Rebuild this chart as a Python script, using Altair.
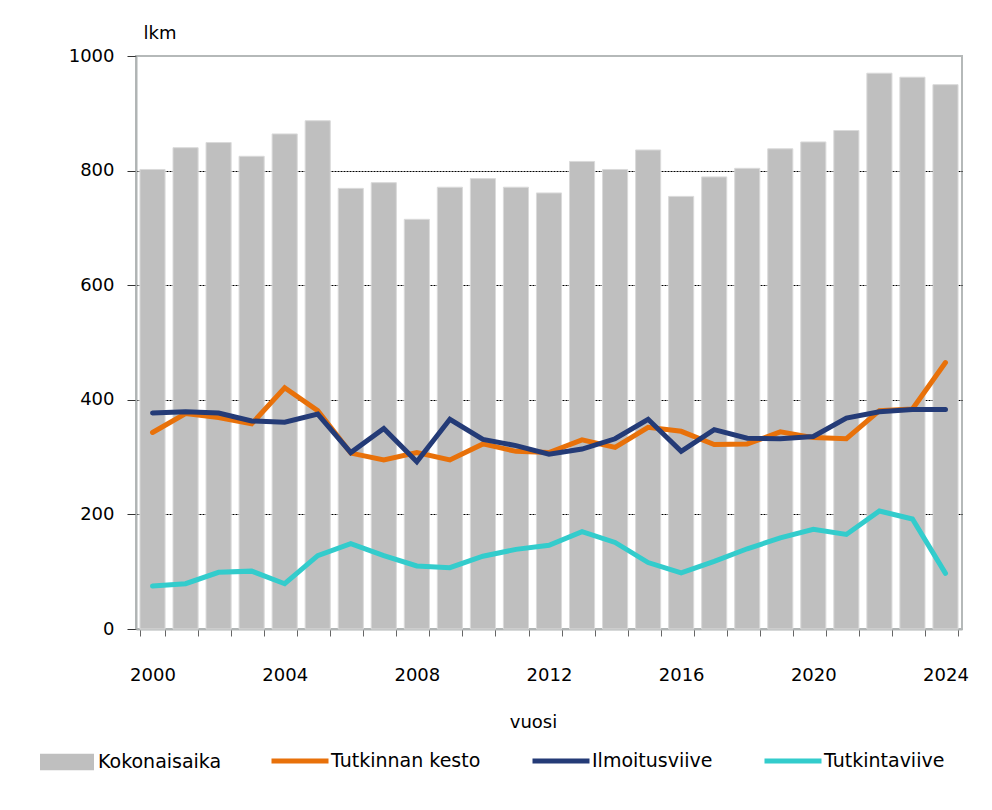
import altair as alt
import pandas as pd

years = list(range(2000, 2025))
kokonaisaika = [802, 840, 849, 825, 864, 887, 769, 779, 715, 771, 786, 771, 761,
                816, 802, 836, 755, 789, 804, 838, 850, 870, 970, 963, 950]
tutkinnan_kesto = [343, 376, 369, 358, 421, 381, 307, 295, 308, 295, 323, 310, 308,
                   330, 317, 352, 345, 322, 323, 344, 334, 332, 381, 384, 465]
ilmoitusviive = [377, 379, 377, 363, 361, 375, 308, 350, 292, 366, 331, 320, 305,
                 314, 332, 366, 310, 348, 333, 332, 336, 368, 379, 383, 383]
tutkintaviive = [75, 79, 99, 101, 79, 128, 149, 128, 110, 107, 127, 139, 146,
                 170, 151, 116, 98, 118, 140, 159, 174, 165, 206, 192, 97]

bar_name = "Kokonaisaika"
line_names = ["Tutkinnan kesto", "Ilmoitusviive", "Tutkintaviive"]
line_colors = ["#E8710A", "#243B77", "#33CCCC"]
y_ticks = [0, 200, 400, 600, 800, 1000]

df_bar = pd.DataFrame({"vuosi": years, "arvo": kokonaisaika, "sarja": bar_name})
rows = []
for name, vals in zip(line_names, [tutkinnan_kesto, ilmoitusviive, tutkintaviive]):
    for yr, v in zip(years, vals):
        rows.append({"vuosi": yr, "arvo": v, "sarja": name})
df_lines = pd.DataFrame(rows)

FONT = "DejaVu Sans"

x = alt.X(
    "vuosi:O",
    scale=alt.Scale(paddingInner=0.24, paddingOuter=0.12),
    axis=alt.Axis(
        title="vuosi",
        titleFontSize=18,
        titleFontWeight="normal",
        titleColor="#000",
        titleX=397,
        titleY=98,
        titleAlign="center",
        titleBaseline="alphabetic",
        labelAngle=0,
        labelFontSize=18,
        labelColor="#000",
        labelPadding=30,
        labelExpr="datum.value % 4 == 0 ? datum.label : ''",
        tickBand="extent",
        tickSize=7,
        tickColor="#666666",
        domainColor="#b0b4b4",
        domainWidth=2,
        grid=False,
    ),
)
y = alt.Y(
    "arvo:Q",
    scale=alt.Scale(domain=[0, 1000], nice=False),
    axis=alt.Axis(
        title="lkm",
        titleAngle=0,
        titleFontSize=18,
        titleFontWeight="normal",
        titleColor="#000",
        titleX=7,
        titleY=-18,
        titleAlign="left",
        titleBaseline="alphabetic",
        values=y_ticks,
        format="d",
        labelFontSize=18,
        labelColor="#000",
        labelPadding=13,
        tickSize=9,
        tickColor="#333333",
        domainColor="#b0b4b4",
        domainWidth=2,
        grid=True,
        gridColor="#000000",
        gridDash=[2, 1],
        gridWidth=1,
        gridOpacity={"condition": {"test": "datum.value <= 0 || datum.value >= 1000", "value": 0}, "value": 1},
    ),
)

bars = alt.Chart(df_bar).mark_bar(stroke="#dadada", strokeWidth=1).encode(
    x=x,
    y=y,
    fill=alt.Fill(
        "sarja:N",
        scale=alt.Scale(domain=[bar_name], range=["#BFBFBF"]),
        legend=alt.Legend(
            orient="none",
            legendX=-96,
            legendY=679,
            title=None,
            padding=0,
            symbolType="M-1,-0.31H1V0.31H-1Z",
            symbolSize=2916,
            symbolStrokeWidth=0,
            labelFontSize=19,
            labelColor="#000",
            labelOffset=4,
        ),
    ),
)

line_legend = alt.Legend(
    orient="none",
    legendX=133,
    legendY=674,
    title=None,
    padding=0,
    direction="horizontal",
    symbolType="stroke",
    symbolSize=3249,
    symbolStrokeWidth=5,
    labelFontSize=19,
    labelColor="#000",
    labelOffset=0,
    columnPadding=41,
)


def line_layer(name):
    return (
        alt.Chart(df_lines)
        .transform_filter(alt.datum.sarja == name)
        .mark_line(strokeWidth=5, strokeCap="round")
        .encode(
            x=x,
            y=y,
            stroke=alt.Stroke(
                "sarja:N",
                scale=alt.Scale(domain=line_names, range=line_colors),
                legend=line_legend,
            ),
        )
    )


chart = (
    alt.layer(bars, line_layer(line_names[0]), line_layer(line_names[1]), line_layer(line_names[2]))
    .properties(
        width=826,
        height=573,
        autosize=alt.AutoSizeParams(type="none"),
        padding={"left": 128, "top": 48, "right": 15, "bottom": 160},
    )
    .configure(font=FONT)
    .configure_view(stroke="#b5b9b9", strokeWidth=2)
)

chart.save("out.html", embed_options={"renderer": "svg", "actions": False})
